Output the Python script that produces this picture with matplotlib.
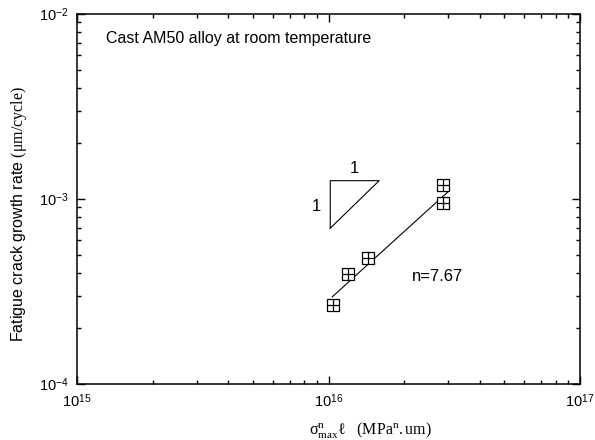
import matplotlib
matplotlib.use('Agg')
import matplotlib.pyplot as plt
from matplotlib.ticker import LogLocator, FixedLocator

plt.rcParams['font.family'] = ['Liberation Sans', 'DejaVu Sans']
plt.rcParams['mathtext.fontset'] = 'custom'
plt.rcParams['mathtext.rm'] = 'Liberation Sans'
plt.rcParams['mathtext.it'] = 'Liberation Serif:italic'
plt.rcParams['mathtext.bf'] = 'Liberation Serif'

# measured data
stress_l = [1.04e16, 1.20e16, 1.44e16, 2.86e16, 2.86e16]
growth_rate = [2.67e-4, 3.93e-4, 4.80e-4, 9.5e-4, 1.19e-3]

# fitted line end points
fit_x = [1.035e16, 3.0e16]
fit_y = [2.96e-4, 1.10e-3]

# slope triangle
tri_x = [1.016e16, 1.016e16, 1.59e16, 1.016e16]
tri_y = [6.95e-4, 1.256e-3, 1.256e-3, 6.95e-4]

xticks = [1e15, 1e16, 1e17]
xtick_labels = ['$10^{15}$', '$10^{16}$', '$10^{17}$']
yticks = [1e-4, 1e-3, 1e-2]
ytick_labels = ['$10^{-4}$', '$10^{-3}$', '$10^{-2}$']

fig = plt.figure(figsize=(5.95, 4.4), dpi=100)
ax = fig.add_axes([77/595, 56/440, 503/595, 370/440])

ax.set_xscale('log')
ax.set_yscale('log')
ax.set_xlim(1e15, 1e17)
ax.set_ylim(1e-4, 1e-2)

# fit line and data
ax.plot(fit_x, fit_y, color='black', lw=0.8)
ax.plot(stress_l, growth_rate, linestyle='none', marker='s', markersize=8,
        markerfacecolor='white', markeredgecolor='black', markeredgewidth=0.9)
ax.plot(stress_l, growth_rate, linestyle='none', marker='+', markersize=8,
        color='black', markeredgewidth=0.9)

# slope triangle
ax.plot(tri_x, tri_y, color='black', lw=0.8)
ax.text(1.27e16, 1.33e-3, '1', fontsize=12, ha='center', va='bottom')
ax.text(0.93e16, 9.1e-4, '1', fontsize=12, ha='right', va='center')

ax.text(2.15e16, 3.8e-4, 'n=7.67', fontsize=12, ha='left', va='center')
ax.text(0.058, 0.935, 'Cast AM50 alloy at room temperature', fontsize=11.5,
        transform=ax.transAxes, ha='left', va='center')

ax.xaxis.set_major_locator(FixedLocator(xticks))
ax.set_xticklabels(xtick_labels)
ax.yaxis.set_major_locator(FixedLocator(yticks))
ax.set_yticklabels(ytick_labels)
ax.xaxis.set_minor_locator(LogLocator(base=10, subs=range(2, 10)))
ax.yaxis.set_minor_locator(LogLocator(base=10, subs=range(2, 10)))
ax.xaxis.set_minor_formatter(plt.NullFormatter())
ax.yaxis.set_minor_formatter(plt.NullFormatter())

ax.tick_params(which='both', direction='in', top=True, right=True, width=1.0,
               labelsize=10.5)
ax.tick_params(which='major', length=6, pad=6)
ax.tick_params(which='minor', length=3)
for sp in ax.spines.values():
    sp.set_linewidth(1.1)

ax.set_ylabel('Fatigue crack growth rate ' + r'$\mathbf{(μm/cycle)}$',
              fontsize=11.5)
ax.yaxis.set_label_coords(-0.095, 0.46)

fig.text(370/595, 1 - 430/440,
         r'$\mathbf{σ}^{\mathbf{n}}_{\mathbf{max}}\mathbf{ℓ}$'
         + r'$\mathbf{\ \ \ (MPa}^{\mathbf{n}}\mathbf{.um)}$',
         fontsize=11.5, ha='center', va='center')

fig.savefig('out.png', dpi=100)
